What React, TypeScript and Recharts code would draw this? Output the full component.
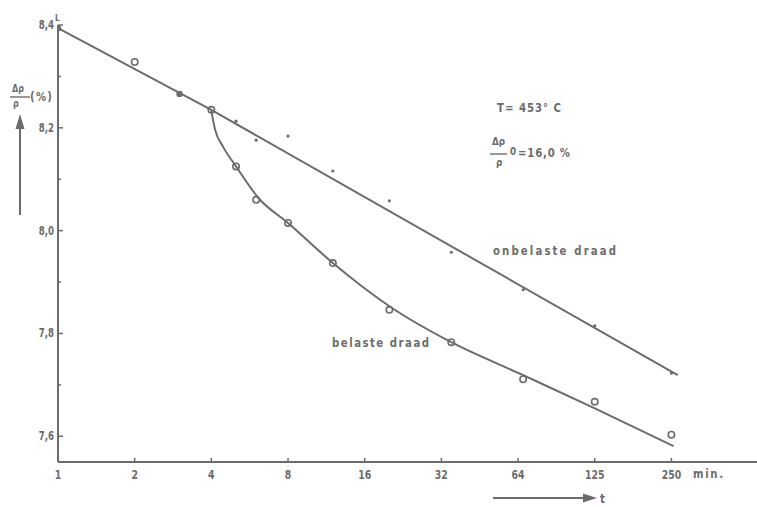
import React from 'react';
import { ComposedChart, Line, Scatter, XAxis, YAxis } from 'recharts';

const INK = '#6c6c6c';
const FONT = "'DejaVu Sans', 'Liberation Sans', sans-serif";

// x axis (log, base-2 spacing) ticks and labels
const ticksX = [1, 2, 4, 8, 16, 32, 64, 128, 256];
const labelsX = ['1', '2', '4', '8', '16', '32', '64', '125', '250'];
// y axis ticks and labels
const ticksY = [7.6, 7.7, 7.8, 7.9, 8.0, 8.1, 8.2, 8.3, 8.4];
const labelsY = ['7,6', '', '7,8', '', '8,0', '', '8,2', '', '8,4'];

// measured points: onbelaste draad (dots)
const unloadedT = [5, 6, 8, 12, 20, 35, 67, 128, 256];
const unloadedV = [8.213, 8.176, 8.184, 8.116, 8.058, 7.958, 7.885, 7.815, 7.723];
// common points before loading (solid)
const commonT = [1, 3];
const commonV = [8.394, 8.266];
// measured points: belaste draad (open circles)
const loadedT = [2, 4, 5, 6, 8, 12, 20, 35, 67, 128, 256];
const loadedV = [8.328, 8.235, 8.125, 8.06, 8.015, 7.937, 7.846, 7.783, 7.711, 7.667, 7.603];

// drawn curves
const upperFitT = [1, 4, 271];
const upperFitV = [8.394, 8.235, 7.719];
const lowerFitT = [4, 4.14, 4.45, 5, 6.16, 8, 12, 20, 35, 67, 130, 261];
const lowerFitV = [8.233, 8.196, 8.163, 8.125, 8.062, 8.015, 7.937, 7.853, 7.783, 7.719, 7.653, 7.581];

const zip = (ts: number[], vs: number[]) => ts.map((t, i) => ({ t, v: vs[i] }));
const unloaded = zip(unloadedT, unloadedV);
const common = zip(commonT, commonV);
const loaded = zip(loadedT, loadedV);
const upperFit = zip(upperFitT, upperFitV);
const lowerFit = zip(lowerFitT, lowerFitV);

type TP = {
  x: number;
  y: number;
  size?: number;
  anchor?: 'start' | 'middle' | 'end';
  w?: number;
  sx?: number;
  children: React.ReactNode;
};
const T = ({ x, y, size = 12, anchor = 'start', w, sx = 0.78, children }: TP) => (
  <text
    x={0}
    y={0}
    transform={`translate(${x},${y}) scale(${sx},1)`}
    textAnchor={anchor}
    fontFamily={FONT}
    fontWeight="bold"
    fontSize={size}
    fill={INK}
    textLength={w ? w / sx : undefined}
    lengthAdjust={w ? 'spacing' : undefined}
  >
    {children}
  </text>
);

const XTick = (p: any) => {
  const { x, y, payload } = p;
  const i = ticksX.indexOf(payload.value);
  return (
    <g>
      <line x1={x} x2={x} y1={y} y2={y - 4} stroke={INK} strokeWidth={1.5} />
      <T x={x} y={y + 17} size={13} anchor="middle" sx={0.72}>
        {labelsX[i]}
      </T>
    </g>
  );
};

const YTick = (p: any) => {
  const { x, y, payload } = p;
  const i = ticksY.findIndex((v) => Math.abs(v - payload.value) < 1e-6);
  const lab = labelsY[i];
  return (
    <g>
      <line x1={x} x2={x + (lab ? 5 : 3)} y1={y} y2={y} stroke={INK} strokeWidth={1.5} />
      {lab ? (
        <T x={x - 4} y={y + 4} size={12} anchor="end" sx={0.72}>
          {lab}
        </T>
      ) : null}
    </g>
  );
};

const OpenCircle = (p: any) => (
  <circle cx={p.cx} cy={p.cy} r={3.2} fill="none" stroke={INK} strokeWidth={1.6} />
);
const SmallDot = (p: any) => <circle cx={p.cx} cy={p.cy} r={1.6} fill={INK} />;
const BigDot = (p: any) => <circle cx={p.cx} cy={p.cy} r={3.2} fill={INK} />;

export default function App() {
  return (
    <div style={{ position: 'absolute', left: 0, top: 0, width: 757, height: 507, background: '#fff' }}>
      <ComposedChart width={757} height={507} margin={{ top: 25, right: 0, bottom: 15, left: 8 }}>
        <XAxis
          type="number"
          dataKey="t"
          scale="log"
          domain={[1, 555]}
          allowDataOverflow
          ticks={ticksX}
          interval={0}
          tick={<XTick />}
          tickLine={false}
          tickSize={0}
          tickMargin={0}
          height={30}
          axisLine={{ stroke: INK, strokeWidth: 2 }}
        />
        <YAxis
          type="number"
          dataKey="v"
          domain={[7.55, 8.4]}
          allowDataOverflow
          ticks={ticksY}
          interval={0}
          tick={<YTick />}
          tickLine={false}
          tickSize={0}
          tickMargin={0}
          width={50}
          axisLine={{ stroke: INK, strokeWidth: 2 }}
        />
        <Line data={upperFit} dataKey="v" type="linear" stroke={INK} strokeWidth={2} dot={false} isAnimationActive={false} />
        <Line data={lowerFit} dataKey="v" type="monotone" stroke={INK} strokeWidth={2} dot={false} isAnimationActive={false} />
        <Scatter data={unloaded} dataKey="v" shape={SmallDot} isAnimationActive={false} />
        <Scatter data={loaded} dataKey="v" shape={OpenCircle} isAnimationActive={false} />
        <Scatter data={common} dataKey="v" shape={BigDot} isAnimationActive={false} />
      </ComposedChart>
      <svg
        width={757}
        height={507}
        style={{ position: 'absolute', left: 0, top: 0, pointerEvents: 'none' }}
      >
        <T x={55} y={21} size={9} sx={0.8}>L</T>
        {/* y axis label */}
        <T x={12} y={92} size={10} sx={0.8}>Δρ</T>
        <line x1={10} x2={30} y1={97} y2={97} stroke={INK} strokeWidth={1.4} />
        <T x={13} y={107} size={10} sx={0.8}>ρ</T>
        <T x={30} y={101} size={13} w={22}>(%)</T>
        <line x1={20} x2={20} y1={215} y2={126} stroke={INK} strokeWidth={2} />
        <polygon points="20,114 15.5,129 24.5,129" fill={INK} />
        {/* annotations */}
        <T x={497} y={112} size={13} w={64}>T= 453° C</T>
        <T x={492} y={145} size={11} sx={0.8}>Δρ</T>
        <line x1={490} x2={507} y1={154} y2={154} stroke={INK} strokeWidth={1.4} />
        <T x={496} y={166} size={11} sx={0.8}>ρ</T>
        <T x={510} y={155} size={11} sx={0.8}>0</T>
        <T x={518} y={157} size={13} w={52}>=16,0 %</T>
        <T x={493} y={255} size={13} w={123}>onbelaste draad</T>
        <T x={332} y={347} size={13} w={97}>belaste draad</T>
        {/* x axis label */}
        <T x={693} y={478} size={13} w={30}>min.</T>
        <line x1={493} x2={586} y1={498} y2={498} stroke={INK} strokeWidth={2} />
        <polygon points="597,498 583,493.5 583,502.5" fill={INK} />
        <T x={600} y={503} size={13} sx={0.8}>t</T>
      </svg>
    </div>
  );
}
